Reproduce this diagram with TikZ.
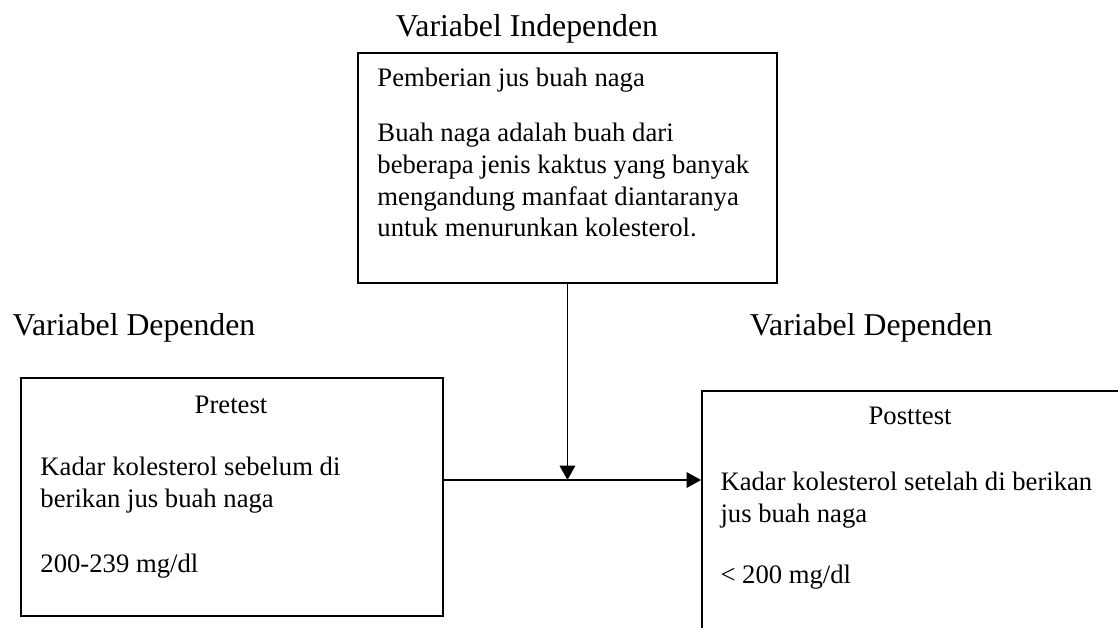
\documentclass[tikz,border=0pt]{standalone}
\usepackage{fontspec}
\setmainfont{Liberation Serif}
\usetikzlibrary{positioning}
\usetikzlibrary{arrows.meta}
\tikzset{
    varbox/.style = {rectangle, draw=black, line width=0.8pt, inner sep=0pt, anchor=north west},
    vartitle/.style = {anchor=base, inner sep=0pt, font=\fontsize{14.3}{17}\selectfont},
    boxtext/.style = {anchor=base west, inner sep=0pt, align=left, font=\fontsize{12}{14.3}\selectfont},
    boxhead/.style = {anchor=base, inner sep=0pt, font=\fontsize{12}{14.3}\selectfont},
    edgea/.style = {-{Triangle[length=6.5pt,width=7pt]}, line width=0.8pt}
}

\begin{document}
\begin{tikzpicture}
\useasboundingbox (0,0) rectangle (17.68,9.916);
\clip (0,0) rectangle (17.68,9.916);
% titles
\node[vartitle] at (8.334, 9.331) (tind) {Variabel Independen};
\node[vartitle] at (2.119, 4.618) (tdep1) {Variabel Dependen};
\node[vartitle] at (13.775, 4.618) (tdep2) {Variabel Dependen};
% independent box (base = last line)
\node[varbox, minimum width=6.627cm, minimum height=3.637cm] at (5.646, 9.094) (indep) {};
\node[boxtext] at (5.962, 8.540) (indh) {Pemberian jus buah naga};
\node[boxtext] at (5.962, 6.168) (indt) {Buah naga adalah buah dari\\beberapa jenis kaktus yang banyak\\mengandung manfaat diantaranya\\untuk menurunkan kolesterol.};
% pretest
\node[varbox, minimum width=6.674cm, minimum height=3.764cm] at (0.316, 3.954) (pre) {};
\node[boxhead] at (3.653, 3.384) (preh) {Pretest};
\node[boxtext] at (0.633, 1.898) (pret) {Kadar kolesterol sebelum di\\berikan jus buah naga};
\node[boxtext] at (0.633, 0.870) (prev) {200-239 mg/dl};
% posttest
\node[varbox, minimum width=6.785cm, minimum height=3.954cm] at (11.086, 3.748) (post) {};
\node[boxhead] at (14.392, 3.195) (posth) {Posttest};
\node[boxtext] at (11.387, 1.661) (postt) {Kadar kolesterol setelah di berikan\\jus buah naga};
\node[boxtext] at (11.387, 0.696) (postv) {< 200 mg/dl};
%
\coordinate (join) at (8.967, 2.325);
\draw[edgea] (indep.south) -- (indep.south |- join);
\draw[edgea] (pre.east |- join) -- (post.west |- join);
\end{tikzpicture}
\end{document}
